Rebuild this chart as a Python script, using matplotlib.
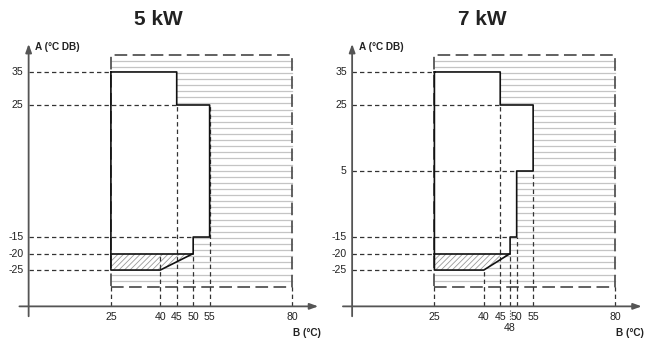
import matplotlib.pyplot as plt
from matplotlib.patches import Polygon, Rectangle
import numpy as np

plt.rcParams['font.family'] = ['Liberation Sans', 'DejaVu Sans']
plt.rcParams['hatch.linewidth'] = 0.6
plt.rcParams['hatch.color'] = '#9a9a9a'

# operating limits box (water outlet B, ambient A)
box_x = [25, 80]
box_y = [-30, 40]

# 5 kW
title_5 = '5 kW'
xticks_5 = [25, 40, 45, 50, 55, 80]
yticks_5 = [35, 25, -15, -20, -25]
env_x_5 = [25, 45, 45, 55, 55, 50, 50, 40, 25]
env_y_5 = [35, 35, 25, 25, -15, -15, -20, -25, -25]
hatch_x_5 = [25, 50, 40, 25]
hatch_y_5 = [-20, -20, -25, -25]
hguide_y_5 = [35, 25, -15, -20, -25]
hguide_to_5 = [25, 45, 50, 25, 25]
vguide_x_5 = [25, 40, 45, 50, 55, 80]
vguide_to_5 = [-30, -20, 25, -20, 25, -30]

# 7 kW
title_7 = '7 kW'
xticks_7 = [25, 40, 45, 50, 55, 80]
yticks_7 = [35, 25, 5, -15, -20, -25]
env_x_7 = [25, 45, 45, 55, 55, 50, 50, 48, 48, 40, 25]
env_y_7 = [35, 35, 25, 25, 5, 5, -15, -15, -20, -25, -25]
hatch_x_7 = [25, 48, 40, 25]
hatch_y_7 = [-20, -20, -25, -25]
hguide_y_7 = [35, 25, 5, -15, -20, -25]
hguide_to_7 = [25, 45, 50, 48, 25, 25]
vguide_x_7 = [25, 40, 45, 48, 50, 55, 80]
vguide_to_7 = [-30, -25, 25, -20, -15, 5, -30]
extra_tick_7 = 48

AXIS_Y = -36
DARK = '#222222'


def draw_panel(ax, title, xticks, yticks, env_x, env_y, hatch_x, hatch_y,
               hg_y, hg_to, vg_x, vg_to, extra=None):
	ax.set_xlim(-8.7, 89.6)
	ax.set_ylim(-47.7, 56.8)
	ax.axis('off')

	# grey horizontal fill lines in the box
	for y in np.arange(box_y[0] + 1.8, box_y[1], 1.85):
		ax.plot(box_x, [y, y], color='#c4c4c4', lw=0.9, zorder=1)

	# white operating envelope on top of the fill
	ax.add_patch(Polygon(np.column_stack([env_x, env_y]), closed=True,
	                     facecolor='white', edgecolor='none', zorder=2))
	ax.add_patch(Polygon(np.column_stack([hatch_x, hatch_y]), closed=True,
	                     facecolor='white', edgecolor='#9a9a9a', lw=0,
	                     hatch='//////', zorder=3))

	# box border
	ax.add_patch(Rectangle((box_x[0], box_y[0]), box_x[1] - box_x[0],
	                       box_y[1] - box_y[0], fill=False, edgecolor='#555555',
	                       lw=1.3, linestyle=(0, (7, 3)), zorder=4))

	# guide lines
	for y, xe in zip(hg_y, hg_to):
		ax.plot([0, xe], [y, y], color='#333333', lw=0.9,
		        linestyle=(0, (3.5, 2.5)), zorder=5)
	for x, ye in zip(vg_x, vg_to):
		ax.plot([x, x], [AXIS_Y, ye], color='#333333', lw=0.9,
		        linestyle=(0, (3.5, 2.5)), zorder=5)

	# envelope outline
	ax.plot(env_x + [env_x[0]], env_y + [env_y[0]], color='#111111', lw=1.2,
	        zorder=6)
	ax.plot([hatch_x[0], hatch_x[1]], [hatch_y[0], hatch_y[1]],
	        color='#111111', lw=1.2, zorder=6)

	# axes with arrows
	ax.annotate('', xy=(0, 43.5), xytext=(0, -39), zorder=7,
	            arrowprops=dict(arrowstyle='-|>,head_length=0.5,head_width=0.18',
	                            color='#555555', lw=1.3, shrinkA=0, shrinkB=0))
	ax.annotate('', xy=(88, AXIS_Y), xytext=(-2.8, AXIS_Y), zorder=7,
	            arrowprops=dict(arrowstyle='-|>,head_length=0.5,head_width=0.18',
	                            color='#555555', lw=1.3, shrinkA=0, shrinkB=0))

	for y in yticks:
		ax.text(-1.6, y, str(y), ha='right', va='center', fontsize=7.6,
		        color=DARK)
	for x in xticks:
		ax.text(x, AXIS_Y - 1.8, str(x), ha='center', va='top', fontsize=7.6,
		        color=DARK)
	if extra is not None:
		ax.plot([extra, extra], [AXIS_Y - 1.2, AXIS_Y - 4.2], color='#555555',
		        lw=0.8, linestyle=(0, (1, 1.5)))
		ax.text(extra, AXIS_Y - 5.0, str(extra), ha='center', va='top',
		        fontsize=7.6, color=DARK)

	ax.text(2, 42.6, 'A (°C DB)', ha='left', va='center', fontsize=7.2,
	        fontweight='bold', color=DARK)
	ax.text(80.2, -44.1, 'B (°C)', ha='left', va='center', fontsize=7.2,
	        fontweight='bold', color=DARK)
	ax.text(39.5, 50.8, title, ha='center', va='center', fontsize=15,
	        fontweight='bold', color=DARK)


fig = plt.figure(figsize=(6.47, 3.45), dpi=100)
ax1 = fig.add_axes([0.0, 0.0, 0.5, 1.0])
ax2 = fig.add_axes([0.5, 0.0, 0.5, 1.0])

draw_panel(ax1, title_5, xticks_5, yticks_5, env_x_5, env_y_5, hatch_x_5,
           hatch_y_5, hguide_y_5, hguide_to_5, vguide_x_5, vguide_to_5)
draw_panel(ax2, title_7, xticks_7, yticks_7, env_x_7, env_y_7, hatch_x_7,
           hatch_y_7, hguide_y_7, hguide_to_7, vguide_x_7, vguide_to_7,
           extra=extra_tick_7)

fig.savefig('out.png', dpi=100)
